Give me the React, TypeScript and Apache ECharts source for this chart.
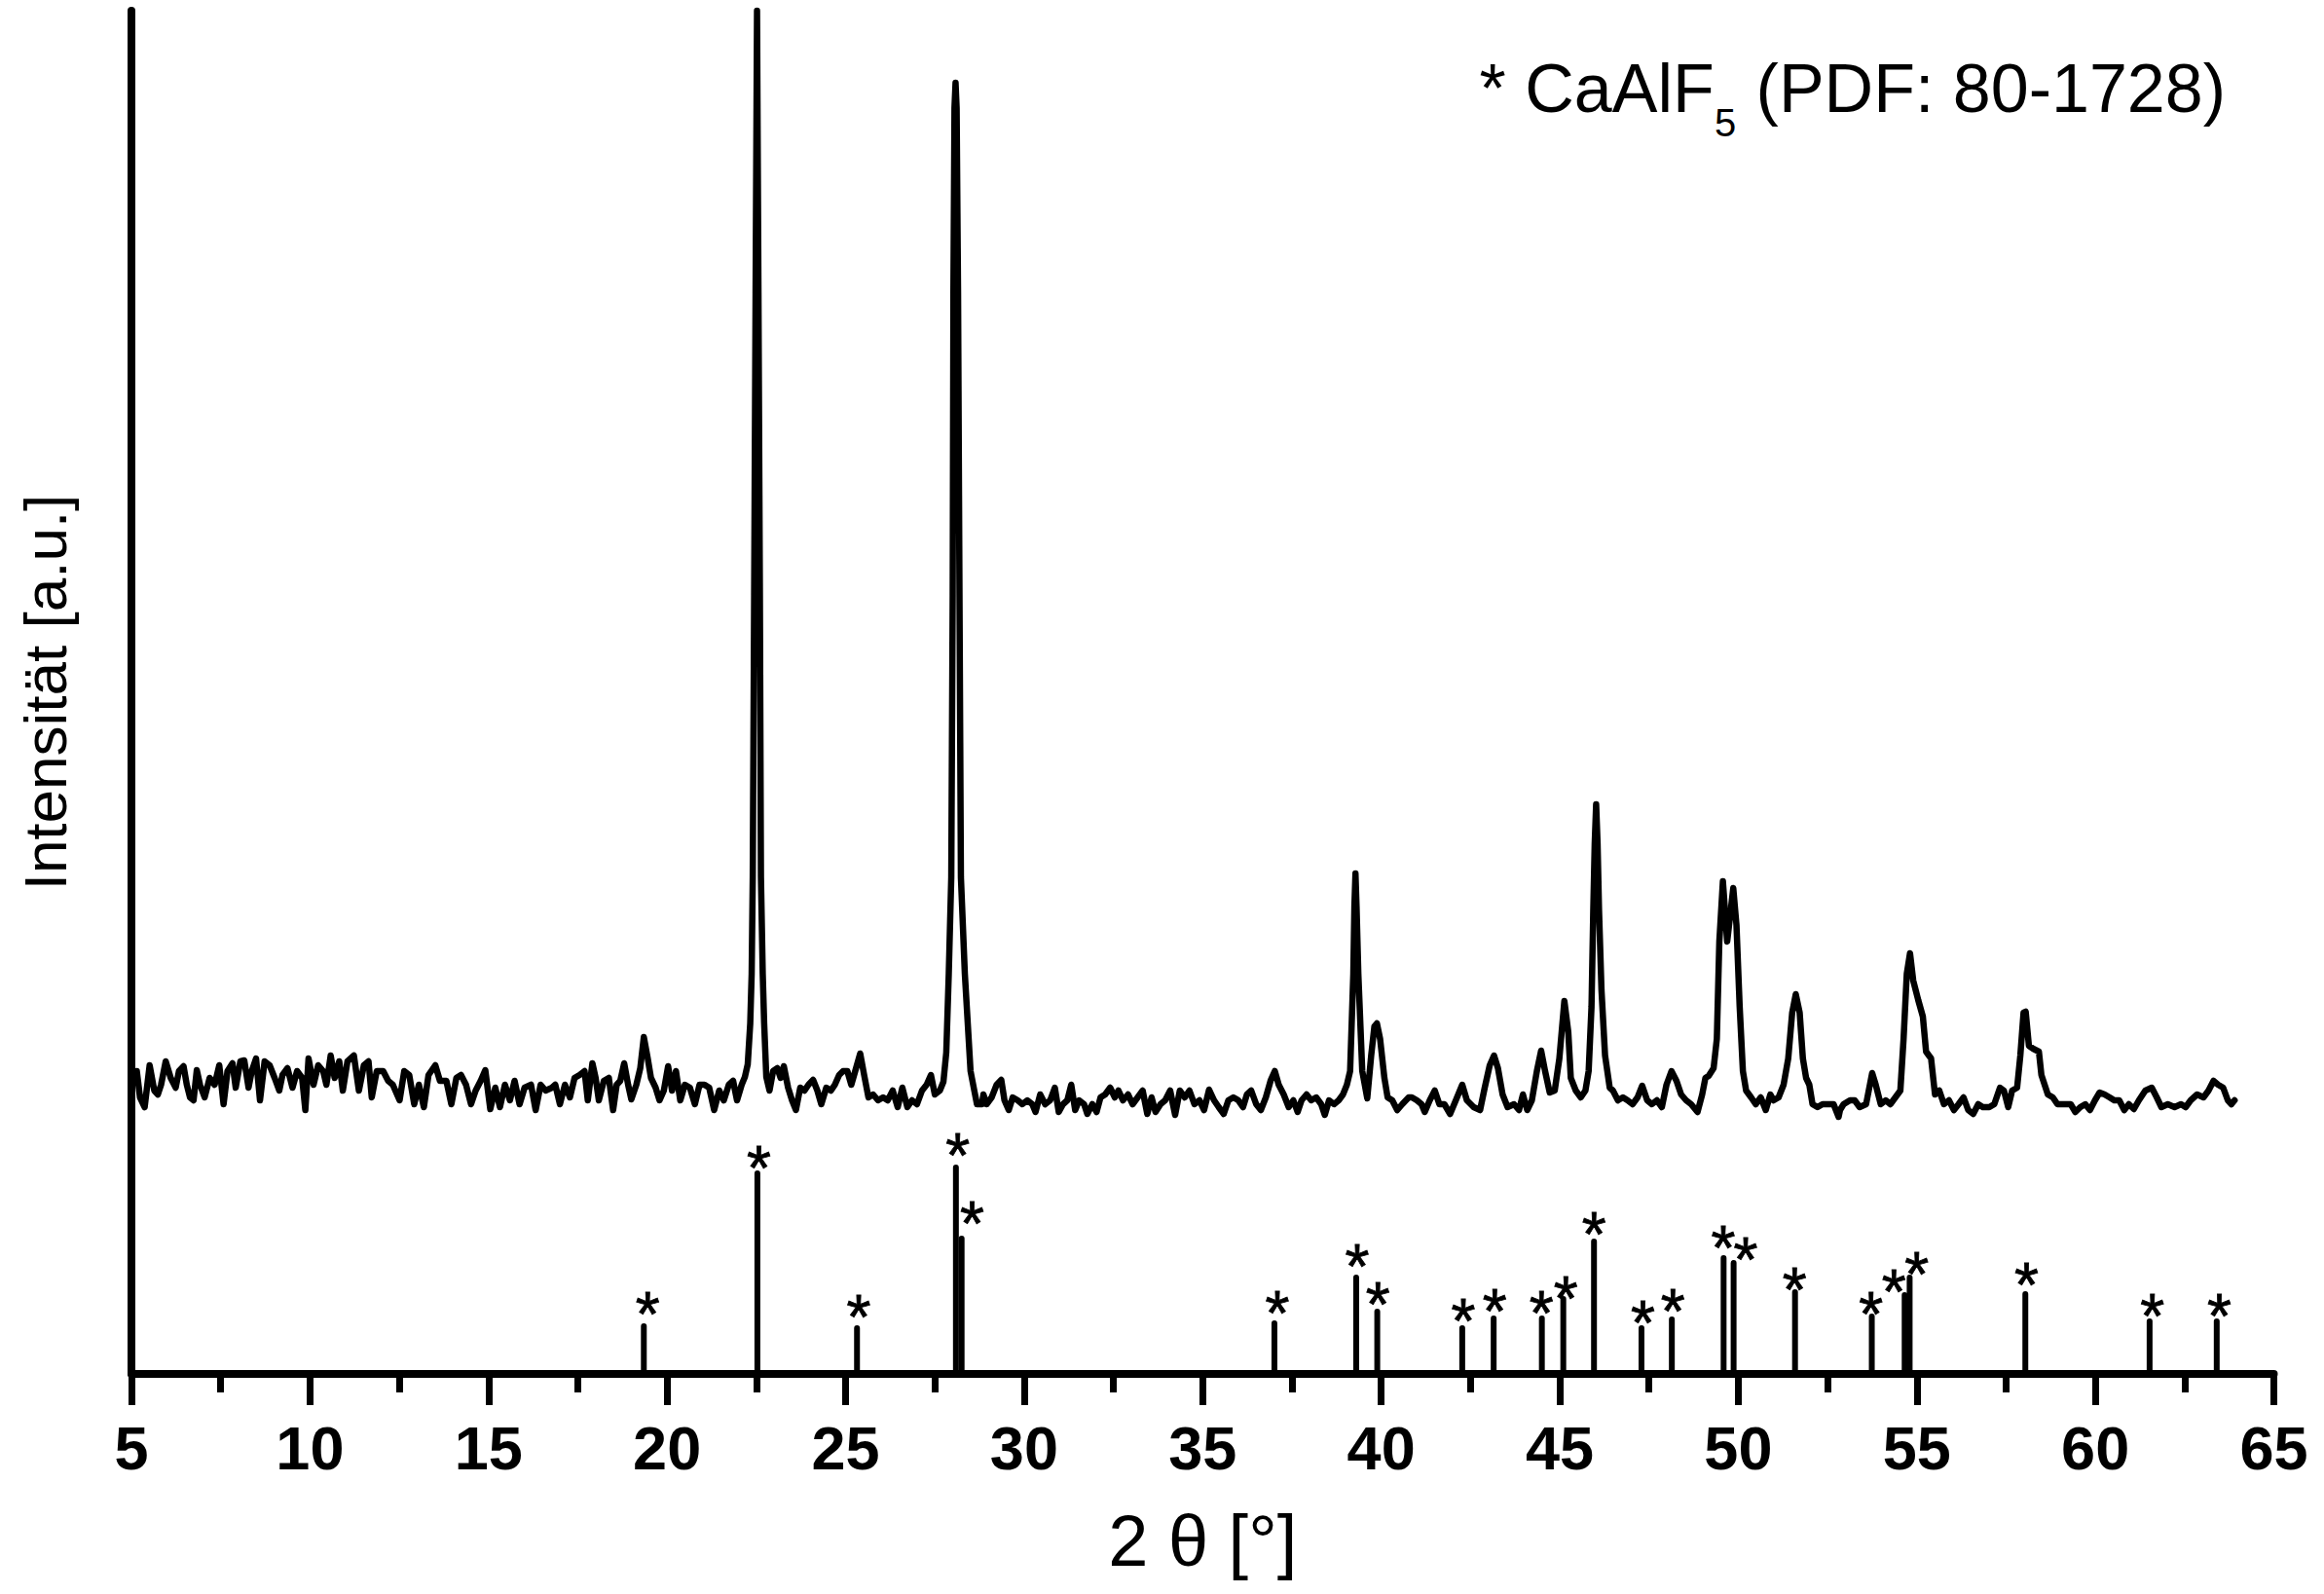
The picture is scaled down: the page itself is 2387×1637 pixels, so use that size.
import React, { useEffect, useRef } from "react";
import * as echarts from "echarts";

// Measured XRD scan (2θ in degrees, intensity in a.u.)
const scanX = [
  5.15, 5.24, 5.37, 5.51, 5.64, 5.74, 5.83, 5.96, 6.10, 6.24, 6.33, 6.46, 6.55, 6.64, 6.74, 6.83, 6.92, 7.05, 7.19, 7.33,
  7.46, 7.58, 7.69, 7.83, 7.92, 8.05, 8.16, 8.28, 8.37, 8.49, 8.60, 8.73, 8.87, 9.01, 9.14, 9.23, 9.37, 9.51, 9.64, 9.78,
  9.87, 9.96, 10.10, 10.23, 10.37, 10.46, 10.58, 10.69, 10.82, 10.92, 11.05, 11.23, 11.37, 11.51, 11.64, 11.73, 11.87, 12.05, 12.19, 12.32,
  12.51, 12.64, 12.78, 12.92, 13.05, 13.19, 13.32, 13.51, 13.64, 13.82, 13.96, 14.10, 14.23, 14.37, 14.51, 14.64, 14.78, 14.91, 15.05, 15.19,
  15.32, 15.46, 15.60, 15.73, 15.87, 16.01, 16.19, 16.32, 16.46, 16.60, 16.78,
  16.87, 17.00, 17.14, 17.28, 17.41, 17.55, 17.69, 17.78, 17.91, 18.00, 18.09, 18.23, 18.37, 18.49, 18.59, 18.69, 18.80, 18.91, 19.00, 19.14,
  19.25, 19.35, 19.46, 19.55, 19.68, 19.79, 19.91, 20.03, 20.14, 20.25, 20.37, 20.50, 20.64, 20.78, 20.91, 21.05, 21.18, 21.32, 21.46, 21.59,
  21.73, 21.85, 21.96, 22.09, 22.18, 22.26, 22.33, 22.37, 22.40, 22.44, 22.48, 22.52, 22.56, 22.60, 22.63, 22.68, 22.72, 22.78, 22.87, 22.97,
  23.09, 23.18, 23.27, 23.39, 23.50, 23.61, 23.73, 23.85, 23.96, 24.09, 24.21, 24.32, 24.46, 24.59, 24.70, 24.82, 24.93, 25.05, 25.16, 25.27,
  25.41, 25.52, 25.64, 25.77, 25.91, 26.05, 26.18, 26.32, 26.46, 26.59, 26.73, 26.86, 27.00, 27.14, 27.27, 27.39, 27.50, 27.64, 27.74, 27.82,
  27.89, 27.96, 28.00, 28.02, 28.05, 28.08, 28.11, 28.15, 28.19, 28.23, 28.34, 28.50, 28.61, 28.68, 28.82,
  28.86, 28.95, 29.09, 29.23, 29.36, 29.45, 29.57, 29.68, 29.82, 29.95, 30.09, 30.23, 30.32, 30.45, 30.59, 30.73, 30.86, 30.97, 31.09, 31.21,
  31.32, 31.43, 31.54, 31.68, 31.77, 31.91, 32.03, 32.14, 32.27, 32.41, 32.54, 32.64, 32.77, 32.91, 33.04, 33.18, 33.32, 33.45, 33.57, 33.68,
  33.82, 33.95, 34.09, 34.23, 34.36, 34.50, 34.63, 34.77, 34.91, 35.04, 35.18, 35.32, 35.45, 35.59, 35.72, 35.86, 36.00, 36.13, 36.24, 36.36,
  36.50, 36.63, 36.77, 36.91, 37.02, 37.13, 37.27, 37.41, 37.54, 37.66, 37.77, 37.91, 38.04, 38.18, 38.32, 38.42, 38.54, 38.68, 38.81, 38.93,
  39.04, 39.13, 39.22, 39.25, 39.28, 39.31, 39.36, 39.47, 39.61, 39.72, 39.81, 39.88, 39.97, 40.09, 40.18, 40.31, 40.45, 40.59, 40.77,
  40.86, 41.00, 41.13, 41.22, 41.36, 41.50, 41.63, 41.77, 41.93, 42.09, 42.27, 42.40, 42.59, 42.77, 42.90, 43.04, 43.16, 43.27, 43.40, 43.54,
  43.72, 43.86, 43.97, 44.09, 44.22, 44.36, 44.48, 44.59, 44.72, 44.86, 44.99, 45.13, 45.24, 45.31, 45.45, 45.59, 45.72, 45.81, 45.89, 45.94,
  45.98, 46.02, 46.06, 46.10, 46.17, 46.27, 46.40, 46.49, 46.63, 46.77, 46.90, 47.04, 47.18, 47.31, 47.45, 47.58, 47.72, 47.86, 47.99, 48.13,
  48.27, 48.40, 48.54, 48.68, 48.86, 48.99, 49.08, 49.17, 49.31, 49.40, 49.47, 49.57, 49.69, 49.86, 49.95, 50.04, 50.13, 50.22, 50.36, 50.49,
  50.63, 50.77, 50.90, 50.99, 51.13, 51.27, 51.40, 51.51, 51.61, 51.72, 51.81, 51.90, 51.99, 52.08, 52.22, 52.36, 52.49, 52.67, 52.81,
  52.85, 52.95, 53.13, 53.26, 53.40, 53.58, 53.75, 53.85, 53.99, 54.13, 54.26, 54.40, 54.54, 54.63, 54.72, 54.81, 54.90, 55.04, 55.17, 55.26,
  55.40, 55.51, 55.63, 55.76, 55.90, 56.04, 56.17, 56.31, 56.44, 56.58, 56.72, 56.85, 57.03, 57.17, 57.33, 57.44, 57.56, 57.67, 57.81, 57.90,
  57.99, 58.05, 58.14, 58.26, 58.42, 58.49, 58.58, 58.67, 58.81, 58.94, 59.13, 59.31, 59.44, 59.58, 59.72, 59.85, 59.99, 60.12, 60.26, 60.40,
  60.53, 60.67, 60.81, 60.94, 61.08, 61.22, 61.40, 61.58, 61.72, 61.85, 62.03, 62.22, 62.40, 62.53, 62.67, 62.85, 63.03, 63.17, 63.31, 63.44,
  63.58, 63.71, 63.81, 63.90,
];
const scanY = [
  311, 284, 274, 317, 291, 287, 297, 321, 304, 294, 311, 316, 297, 284, 281, 312, 297, 284, 304, 297,
  317, 277, 311, 319, 294, 321, 322, 294, 311, 324, 281, 321, 317, 304, 291, 307, 314, 294, 311, 304,
  271, 324, 297, 317, 311, 297, 327, 304, 321, 291, 321, 327, 291, 317, 321, 284, 311, 311, 301, 297,
  281, 311, 307, 277, 297, 274, 307, 317, 301, 301, 277, 304, 307, 297, 277, 291, 301, 312, 272, 294,
  274, 297, 281, 301, 277, 294, 297, 271, 297, 291, 294,
  297, 277, 297, 284, 304, 307, 311, 281, 319, 304, 281, 301, 304, 271, 297, 301, 319, 297, 282, 297,
  314, 346, 324, 304, 294, 281, 291, 316, 291, 311, 281, 297, 294, 277, 297, 297, 294, 271, 291, 281,
  297, 301, 281, 297, 305, 318, 360, 411, 510, 800, 1110, 1400, 1110, 800, 510, 411, 360, 305, 291, 311,
  314, 304, 316, 294, 281, 271, 294, 291, 297, 302, 291, 277, 294, 291, 297, 307, 311, 311, 297, 311,
  329, 307, 284, 287, 281, 284, 281, 291, 274, 294, 274, 281, 277, 291, 297, 307, 287, 291, 300, 330,
  411, 510, 800, 1110, 1300, 1326, 1300, 1110, 800, 510, 411, 311, 290, 277, 277,
  287, 277, 284, 297, 302, 281, 271, 284, 281, 277, 281, 277, 269, 287, 277, 281, 294, 269, 277, 281,
  297, 271, 281, 277, 267, 277, 269, 284, 287, 294, 284, 291, 281, 287, 277, 284, 291, 267, 284, 269,
  277, 281, 291, 266, 291, 284, 291, 277, 281, 271, 292, 281, 274, 267, 281, 284, 281, 274, 287, 291,
  277, 271, 284, 302, 311, 297, 287, 274, 281, 269, 281, 287, 281, 284, 277, 266, 281, 277, 281, 287,
  297, 311, 411, 480, 514, 480, 411, 311, 283, 327, 357, 360, 344, 304, 284, 281, 271, 277, 284,
  284, 281, 277, 269, 281, 291, 277, 277, 267, 281, 297, 281, 274, 271, 294, 317, 327, 314, 287, 274,
  277, 271, 287, 271, 281, 311, 332, 311, 289, 291, 324, 383, 351, 304, 291, 284, 291, 311, 377, 477,
  545, 585, 545, 477, 394, 327, 294, 291, 281, 284, 281, 277, 284, 296, 281, 277, 281, 274, 297, 311,
  301, 287, 281, 277, 269, 287, 304, 306, 314, 344, 444, 506, 444, 499, 461, 377, 311, 291, 284, 277,
  284, 271, 287, 281, 284, 297, 324, 371, 390, 371, 324, 304, 297, 277, 274, 277, 277, 277, 264,
  271, 277, 281, 281, 274, 277, 309, 297, 277, 281, 277, 284, 291, 344, 411, 432, 404, 384, 367, 331,
  324, 287, 291, 277, 281, 271, 277, 284, 271, 267, 277, 274, 274, 277, 294, 291, 274, 291, 294, 327,
  371, 372, 337, 334, 331, 307, 297, 287, 284, 277, 277, 277, 269, 274, 277, 271, 281, 289, 287, 284,
  281, 281, 271, 277, 272, 281, 291, 294, 284, 274, 277, 274, 277, 274, 281, 287, 284, 291, 301, 297,
  294, 281, 277, 281,
];

// CaAlF5 reference lines (PDF 80-1728)
const refX = [19.35, 22.53, 25.32, 28.09, 28.25, 37.01, 39.30, 39.89, 42.27, 43.15, 44.50, 45.10, 45.96, 47.29, 48.14, 49.59, 49.87, 51.59, 53.74, 54.66, 54.80, 58.04, 61.52, 63.40];
const refH = [49, 206, 47, 212, 139, 52, 99, 64, 47, 57, 57, 77, 136, 47, 56, 119, 114, 84, 59, 81, 99, 82, 54, 54];

// Asterisk markers above reference lines
const starX = [19.46, 22.57, 25.37, 28.14, 28.54, 37.09, 39.33, 39.91, 42.30, 43.18, 44.49, 45.17, 45.96, 47.33, 48.17, 49.58, 50.21, 51.58, 53.72, 54.36, 55.00, 58.07, 61.60, 63.47];
const starY = [72, 222, 69, 235, 165, 73, 121, 82, 65, 75, 73, 88, 154, 63, 75, 140, 128, 97, 72, 95, 113, 102, 70, 70];

const xMin = 5;
const xMax = 65;
const xStep = 5;

const FONT = '"Liberation Sans", Arial, Helvetica, sans-serif';

export default function App() {
  const ref = useRef<HTMLDivElement>(null);

  useEffect(() => {
    if (!ref.current) return;
    const chart = echarts.init(ref.current, null, { renderer: "svg" });

    const sticks = (params: any, api: any) => {
      const x = api.value(0);
      const h = api.value(1);
      const p0 = api.coord([x, 0]);
      const p1 = api.coord([x, h]);
      return {
        type: "line",
        shape: { x1: p0[0], y1: p0[1], x2: p1[0], y2: p1[1] },
        style: { stroke: "#000", lineWidth: 6, lineCap: "round" },
      };
    };

    const stars = (params: any, api: any) => {
      const p = api.coord([api.value(0), api.value(1)]);
      return {
        type: "text",
        x: p[0],
        y: p[1] + 11,
        style: {
          text: "*",
          fill: "#000",
          stroke: "#000",
          lineWidth: 0.8,
          font: `64px ${FONT}`,
          align: "center",
          verticalAlign: "middle",
          textAlign: "center",
          textVerticalAlign: "middle",
        },
      };
    };

    const legendStyle = (text: string, size: number) => ({
      text,
      fill: "#000",
      font: `${size}px ${FONT}`,
      align: "left",
      verticalAlign: "middle",
      textAlign: "left",
      textVerticalAlign: "middle",
    });

    chart.setOption({
      animation: false,
      backgroundColor: "#ffffff",
      grid: { left: 135, right: 51.5, top: 11, bottom: 226, containLabel: false, outerBoundsMode: "none" },
      xAxis: {
        type: "value",
        min: xMin,
        max: xMax,
        interval: xStep,
        axisLine: { show: true, onZero: false, lineStyle: { color: "#000", width: 8 } },
        axisTick: { show: true, inside: false, length: 32, lineStyle: { color: "#000", width: 7 } },
        minorTick: { show: true, splitNumber: 2, length: 19, lineStyle: { color: "#000", width: 7 } },
        splitLine: { show: false },
        minorSplitLine: { show: false },
        axisLabel: { show: true, margin: 44, color: "#000", fontFamily: FONT, fontWeight: "bold", fontSize: 63 },
        name: "2 θ [°]",
        nameLocation: "middle",
        nameGap: 134,
        nameTextStyle: { color: "#000", fontFamily: FONT, fontSize: 74 },
      },
      yAxis: {
        type: "value",
        min: 0,
        max: 1400,
        axisLine: { show: true, onZero: false, lineStyle: { color: "#000", width: 8 } },
        axisTick: { show: false },
        axisLabel: { show: false },
        splitLine: { show: false },
        name: "Intensität [a.u.]",
        nameLocation: "middle",
        nameRotate: 90,
        nameGap: 58,
        nameTextStyle: { color: "#000", fontFamily: FONT, fontSize: 62 },
      },
      graphic: [
        { type: "text", x: 1519.6, y: 90.7, style: legendStyle("* CaAlF", 70) },
        { type: "text", x: 1761, y: 126, style: legendStyle("5", 40) },
        { type: "text", x: 1803.6, y: 90.7, style: legendStyle("(PDF: 80-1728)", 70) },
      ],
      series: [
        {
          type: "line",
          data: scanX.map((x, i) => [x, scanY[i]]),
          showSymbol: false,
          symbol: "none",
          clip: false,
          lineStyle: { color: "#000", width: 6.5, join: "round", cap: "round" },
          z: 3,
        },
        {
          type: "custom",
          renderItem: sticks,
          data: refX.map((x, i) => [x, refH[i]]),
          z: 2,
        },
        {
          type: "custom",
          renderItem: stars,
          data: starX.map((x, i) => [x, starY[i]]),
          clip: false,
          z: 2,
        },
      ],
    });

    return () => chart.dispose();
  }, []);

  return <div ref={ref} style={{ position: "absolute", left: 0, top: 0, width: 2387, height: 1637 }} />;
}
